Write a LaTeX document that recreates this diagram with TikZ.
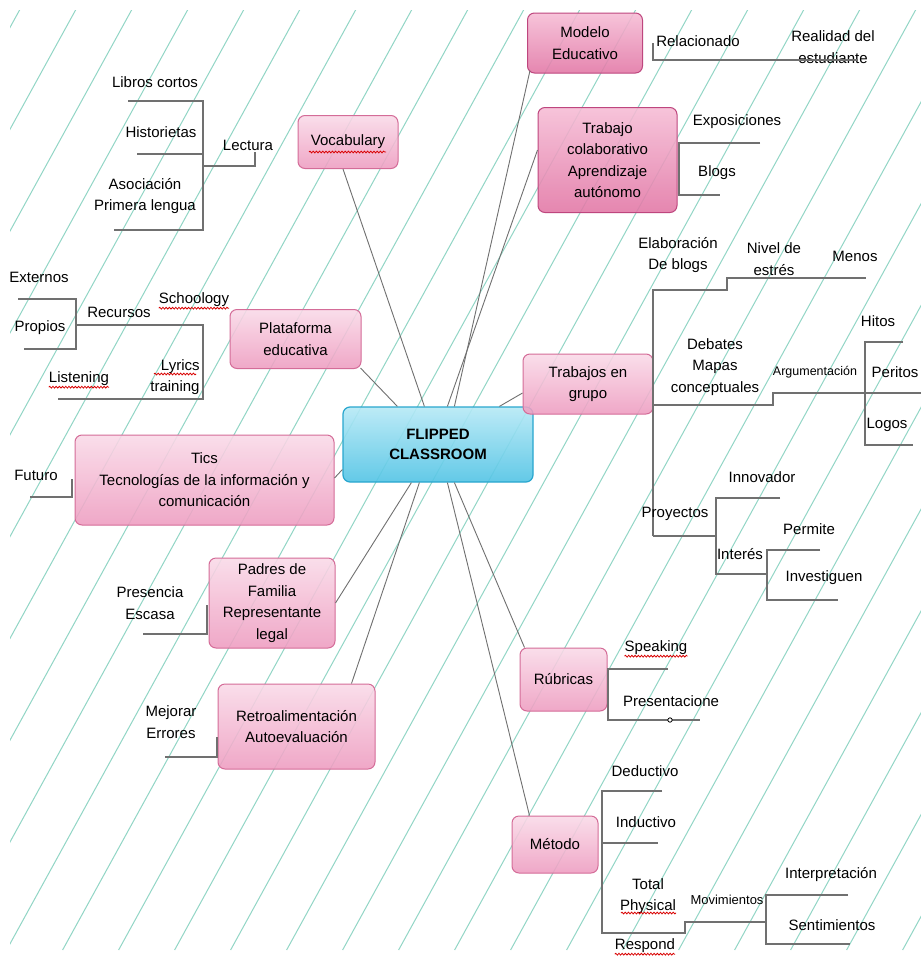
\documentclass[tikz,border=0pt]{standalone}
\usepackage{fontspec}
\setmainfont{Liberation Sans}
\usetikzlibrary{decorations.pathmorphing,calc}
\definecolor{pinktop}{RGB}{250,218,232}
\definecolor{pinkbot}{RGB}{238,156,192}
\definecolor{pinkdraw}{RGB}{212,108,152}
\definecolor{rosetop}{RGB}{246,188,213}
\definecolor{rosebot}{RGB}{226,118,165}
\definecolor{rosedraw}{RGB}{190,70,126}
\definecolor{cyantop}{RGB}{182,233,246}
\definecolor{cyanbot}{RGB}{82,196,229}
\definecolor{cyandraw}{RGB}{40,166,206}
\definecolor{bgline}{RGB}{146,214,198}
\definecolor{branch}{RGB}{112,112,112}
\tikzset{
  pinkbox/.style={draw=pinkdraw, line width=1pt, rounded corners=7pt, top color=pinktop, bottom color=pinkbot,
    fill opacity=0.88, text opacity=1, align=center, inner sep=0pt, font=\fontsize{15}{21.5}\selectfont},
  rosebox/.style={pinkbox, draw=rosedraw, top color=rosetop, bottom color=rosebot},
  centerbox/.style={draw=cyandraw, line width=1.2pt, rounded corners=7pt, top color=cyantop, bottom color=cyanbot,
    fill opacity=0.9, text opacity=1, align=center, inner sep=0pt, font=\bfseries\fontsize{15}{20}\selectfont},
  lbl/.style={align=center, inner sep=0pt, font=\fontsize{15}{21.5}\selectfont},
  smalllbl/.style={align=center, inner sep=0pt, font=\fontsize{12.5}{15}\selectfont},
  link/.style={draw=branch, line width=0.9pt},
  br/.style={draw=branch, line width=1.1pt},
  wavy/.style={draw=red!85!black, line width=0.8pt, decorate, decoration={snake, segment length=3.2pt, amplitude=0.9pt}},
}
\begin{document}
\begin{tikzpicture}[x=1pt,y=-1pt]
\useasboundingbox (0,0) rectangle (921,956);
\fill[white] (0,0) rectangle (921,956);
% background diagonal lines
\begin{scope}
  \clip (10,10) rectangle (921,950);
  \foreach \j in {-1,...,24} {
    \draw[bgline, line width=1pt] ({75.6+56*\j},10) -- ({-441.4+56*\j},950);
  }
\end{scope}

% central node
\node[centerbox, minimum width=190, minimum height=75] (fc) at (438,444.5) {FLIPPED\\CLASSROOM};

% main topic nodes
\node[rosebox, minimum width=115, minimum height=60] (modelo) at (585,43) {Modelo\\Educativo};
\node[rosebox, minimum width=139, minimum height=105] (colab) at (607.5,160) {Trabajo\\colaborativo\\Aprendizaje\\autónomo};
\node[pinkbox, minimum width=100, minimum height=53] (vocab) at (348,142) {Vocabulary};
\node[pinkbox, minimum width=131, minimum height=59] (plat) at (295.5,339) {Plataforma\\educativa};
\node[pinkbox, minimum width=259, minimum height=90] (tics) at (204.5,480) {Tics\\Tecnologías de la información y\\comunicación};
\node[pinkbox, minimum width=126, minimum height=90] (padres) at (272,603) {Padres de\\Familia\\Representante\\legal};
\node[pinkbox, minimum width=157, minimum height=85] (retro) at (296.5,726.5) {Retroalimentación\\Autoevaluación};
\node[pinkbox, minimum width=130, minimum height=60] (grupo) at (588,384) {Trabajos en\\grupo};
\node[pinkbox, minimum width=87, minimum height=63] (rub) at (563.5,679.5) {Rúbricas};
\node[pinkbox, minimum width=86, minimum height=57] (metodo) at (555,844.5) {Método};

% connectors to the centre
\draw[link] ($(modelo.south west)+(3,-3)$) -- ($(fc.north west)+(112,0)$);
\draw[link] ($(colab.west)+(0,-10)$) -- ($(fc.north west)+(105,0)$);
\draw[link] ($(vocab.south)+(-5,0)$) -- ($(fc.north west)+(82,0)$);
\draw[link] ($(plat.south east)+(-1,-1)$) -- ($(fc.north west)+(55,0)$);
\draw[link] ($(tics.east)+(0,-2)$) -- ($(fc.west)+(0,25)$);
\draw[link] (padres.east) -- ($(fc.south west)+(69,0)$);
\draw[link] ($(retro.north west)+(134,0)$) -- ($(fc.south west)+(77,0)$);
\draw[link] ($(grupo.west)+(0,9)$) -- ($(fc.north west)+(157,0)$);
\draw[link] ($(rub.north west)+(5,0)$) -- ($(fc.south west)+(112,0)$);
\draw[link] ($(metodo.north west)+(18,0)$) -- ($(fc.south west)+(105,0)$);

% ---------- left branches ----------
\node[lbl] (libros) at (155,82) {Libros cortos};
\node[lbl] (hist) at (161,132) {Historietas};
\node[lbl] (asoc) at (145,196) {Asociación\\Primera lengua};
\node[lbl] (lect) at (248,145) {Lectura};
\draw[br] (128,101) -- (203,101) -- (203,230) -- (114,230);
\draw[br] (137,154) -- (203,154);
\draw[br] (203,166) -- (255,166) -- (255,152);

\node[lbl] (ext) at (39,277) {Externos};
\node[lbl] (prop) at (40,328) {Propios};
\node[lbl] (recu) at (119,312) {Recursos};
\node[lbl] (school) at (194,300) {Schoology};
\node[lbl, align=right] (lyrics) at (175,377) {Lyrics\\training};
\node[lbl] (listen) at (79,379) {Listening};
\draw[br] (18,299) -- (76,299) -- (76,349) -- (24,349);
\draw[br] (76,325) -- (203,325) -- (203,399) -- (58,399);

\node[lbl] (fut) at (36,475) {Futuro};
\draw[br] (30,497) -- (72,497) -- (72,479);

\node[lbl] (pres) at (150,603) {Presencia\\Escasa};
\draw[br] (143,634) -- (207,634) -- (207,605);

\node[lbl] (mej) at (171,722) {Mejorar\\Errores};
\draw[br] (165,757) -- (217,757) -- (217,737);

% ---------- right branches ----------
\node[lbl] (rel) at (698,41) {Relacionado};
\node[lbl] (real) at (833,47) {Realidad del\\estudiante};
\draw[br] (653,43) -- (653,60) -- (858,60);

\node[lbl] (expo) at (737,122) {Exposiciones};
\node[lbl] (blogs) at (717,173) {Blogs};
\draw[br] (760,143) -- (679,143) -- (679,195) -- (720,195);

\node[lbl] (elab) at (678,255) {Elaboración\\De blogs};
\node[lbl] (nivel) at (774,259) {Nivel de\\estrés};
\node[lbl] (menos) at (855,256) {Menos};
\node[lbl] (hitos) at (878,321) {Hitos};
\node[lbl] (deb) at (715,367) {Debates\\Mapas\\conceptuales};
\node[smalllbl] (arg) at (815,372) {Argumentación};
\node[lbl] (peritos) at (895,372) {Peritos};
\node[lbl] (logos) at (887,425) {Logos};
\draw[br] (653,536) -- (653,290) -- (727,290) -- (727,278) -- (866,278);
\draw[br] (653,405) -- (773,405) -- (773,393) -- (921,393);
\draw[br] (903,342) -- (865,342) -- (865,445) -- (913,445);

\node[lbl] (innov) at (762,477) {Innovador};
\node[lbl] (proy) at (675,514) {Proyectos};
\node[lbl] (perm) at (809,529) {Permite};
\node[lbl] (inter) at (740,554) {Interés};
\node[lbl] (invest) at (824,578) {Investiguen};
\draw[br] (653,536) -- (716,536);
\draw[br] (780,498) -- (716,498) -- (716,574) -- (767,574);
\draw[br] (820,550) -- (767,550) -- (767,600) -- (838,600);

\node[lbl] (speak) at (656,648) {Speaking};
\node[lbl] (presen) at (671,701) {Presentacione};
\draw[br] (668,669) -- (608,669) -- (608,720) -- (700,720);
\draw[draw=black, line width=0.8pt, fill=white] (670,720) circle[radius=2.2];

\node[lbl] (ded) at (645,771) {Deductivo};
\node[lbl] (ind) at (646,822) {Inductivo};
\node[lbl] (total) at (648,896) {Total\\Physical};
\node[smalllbl, font=\fontsize{13}{15}\selectfont] (mov) at (727,900) {Movimientos};
\node[lbl] (interp) at (831,875) {Interpretación};
\node[lbl] (senti) at (832,925) {Sentimientos};
\node[lbl] (resp) at (645,946) {Respond};
\draw[br] (662,791) -- (602,791) -- (602,933) -- (685,933) -- (685,922) -- (766,922);
\draw[br] (602,843) -- (658,843);
\draw[br] (848,895) -- (766,895) -- (766,944) -- (850,944);

% spell-check underlines
\draw[wavy] (309,152) -- (386,152);
\draw[wavy] ($(school.south west)+(0,1)$) -- ($(school.south east)+(0,1)$);
\draw[wavy] (154,374) -- (196,374);
\draw[wavy] ($(listen.south west)+(0,1)$) -- ($(listen.south east)+(0,1)$);
\draw[wavy] ($(speak.south west)+(0,1)$) -- ($(speak.south east)+(0,1)$);
\draw[wavy] (621,913) -- (676,913);
\draw[wavy] ($(resp.south west)+(0,1)$) -- ($(resp.south east)+(0,1)$);
\end{tikzpicture}
\end{document}
